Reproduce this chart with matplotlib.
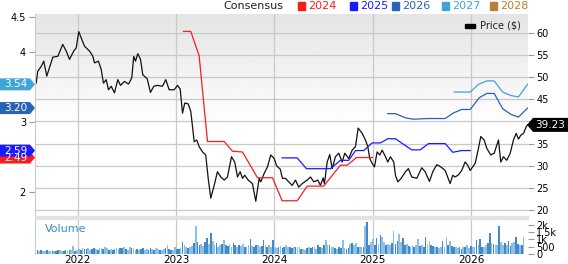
import numpy as np
import matplotlib
matplotlib.use("Agg")
import matplotlib.pyplot as plt
from matplotlib.patches import Polygon, Rectangle
from matplotlib.transforms import IdentityTransform

# ---------------- data ----------------
years = [2022, 2023, 2024, 2025, 2026]

price_t = [2021.577, 2021.593, 2021.628, 2021.654, 2021.685, 2021.712, 2021.746, 2021.797,
           2021.847, 2021.882, 2021.916, 2021.959, 2021.984, 2022.010, 2022.068, 2022.119,
           2022.153, 2022.170, 2022.210, 2022.238, 2022.261, 2022.289, 2022.312, 2022.340,
           2022.373, 2022.407, 2022.434, 2022.475, 2022.516, 2022.549, 2022.569, 2022.587,
           2022.610, 2022.638, 2022.661, 2022.706, 2022.739, 2022.773, 2022.807, 2022.861,
           2022.895, 2022.929, 2022.980, 2023.014, 2023.041, 2023.065, 2023.088, 2023.123,
           2023.149, 2023.184, 2023.210, 2023.234, 2023.268, 2023.301, 2023.326, 2023.352,
           2023.387, 2023.420, 2023.454, 2023.489, 2023.522, 2023.563, 2023.596, 2023.624,
           2023.651, 2023.675, 2023.698, 2023.733, 2023.776, 2023.810, 2023.844, 2023.861,
           2023.895, 2023.929, 2023.962, 2023.997, 2024.023, 2024.058, 2024.081, 2024.112,
           2024.145, 2024.180, 2024.214, 2024.247, 2024.282, 2024.332, 2024.366, 2024.400,
           2024.440, 2024.468, 2024.495, 2024.508, 2024.536, 2024.562, 2024.587, 2024.620,
           2024.654, 2024.688, 2024.715, 2024.755, 2024.790, 2024.824, 2024.851, 2024.892,
           2024.925, 2024.949, 2024.969, 2024.993, 2025.017, 2025.044, 2025.071, 2025.095,
           2025.129, 2025.152, 2025.179, 2025.213, 2025.230, 2025.254, 2025.288, 2025.332,
           2025.362, 2025.396, 2025.447, 2025.498, 2025.532, 2025.576, 2025.610, 2025.650,
           2025.691, 2025.736, 2025.786, 2025.813, 2025.837, 2025.871, 2025.904, 2025.939,
           2025.965, 2025.990, 2026.016, 2026.041, 2026.074, 2026.098, 2026.132, 2026.159,
           2026.199, 2026.234, 2026.278, 2026.301, 2026.328, 2026.362, 2026.397, 2026.430,
           2026.458, 2026.481, 2026.505, 2026.532, 2026.560, 2026.573]
price_v = [48.7, 51.4, 52.5, 53.7, 50.3, 52.2, 54.6, 54.8,
           57.5, 56.0, 54.1, 56.0, 56.7, 60.4, 57.1, 56.0,
           54.8, 53.3, 53.7, 51.8, 48.7, 49.5, 47.2, 48.0,
           46.5, 49.5, 48.2, 49.1, 48.5, 49.9, 54.8, 53.7,
           55.4, 54.1, 50.6, 49.7, 46.6, 48.0, 48.2, 48.0,
           49.5, 47.2, 47.2, 48.2, 47.4, 41.9, 44.2, 44.0,
           42.3, 35.4, 35.8, 34.3, 33.1, 32.4, 27.1, 22.6,
           25.5, 28.6, 27.4, 26.7, 27.4, 32.0, 30.8, 27.4,
           28.6, 27.1, 27.8, 26.7, 25.9, 21.9, 27.1, 26.3,
           28.2, 29.7, 32.4, 31.6, 29.9, 29.2, 27.1, 27.1,
           26.3, 25.5, 26.7, 25.1, 25.9, 26.7, 27.4, 26.3,
           26.7, 25.5, 27.2, 25.9, 30.8, 32.5, 29.3, 32.0,
           32.8, 30.8, 32.8, 31.6, 33.5, 34.3, 38.5, 37.3,
           35.8, 34.3, 31.6, 30.5, 29.7, 33.1, 32.4, 33.5,
           32.0, 30.8, 32.0, 30.8, 27.8, 26.3, 27.1, 28.6,
           29.3, 27.4, 27.1, 29.5, 28.6, 26.4, 28.6, 30.2,
           29.7, 28.9, 25.9, 27.8, 27.4, 27.9, 28.9, 30.8,
           30.1, 28.9, 29.7, 30.5, 33.9, 36.6, 35.8, 33.9,
           32.4, 32.8, 35.8, 30.8, 32.0, 31.2, 32.8, 35.8,
           37.3, 36.0, 36.9, 37.3, 38.8, 39.23]

eps24_t = [2023.075, 2023.149, 2023.234, 2023.319, 2023.489, 2023.573, 2023.675, 2023.827,
           2023.980, 2024.078, 2024.231, 2024.333, 2024.501, 2024.671, 2024.739, 2024.834,
           2024.976, 2024.996]
eps24_v = [4.30, 4.30, 3.95, 2.72, 2.72, 2.58, 2.57, 2.20,
           2.20, 1.87, 1.87, 2.08, 2.08, 2.38, 2.38, 2.49,
           2.49, 2.49]

eps25_t = [2024.078, 2024.231, 2024.325, 2024.569, 2024.671, 2024.755, 2024.824, 2024.908,
           2024.993, 2025.078, 2025.152, 2025.230, 2025.332, 2025.396, 2025.481, 2025.566,
           2025.736, 2025.813, 2025.904, 2025.990]
eps25_v = [2.485, 2.485, 2.33, 2.33, 2.45, 2.45, 2.59, 2.59,
           2.70, 2.70, 2.76, 2.76, 2.66, 2.60, 2.60, 2.69,
           2.69, 2.565, 2.59, 2.59]

eps26_t = [2025.152, 2025.230, 2025.332, 2025.413, 2025.566, 2025.736, 2025.820, 2025.904,
           2025.990, 2026.084, 2026.159, 2026.234, 2026.321, 2026.403, 2026.481, 2026.573]
eps26_v = [3.12, 3.12, 3.06, 3.04, 3.05, 3.05, 3.13, 3.18,
           3.18, 3.35, 3.41, 3.41, 3.19, 3.11, 3.07, 3.20]

eps27_t = [2025.827, 2025.990, 2026.074, 2026.159, 2026.234, 2026.321, 2026.403, 2026.481,
           2026.573]
eps27_v = [3.43, 3.43, 3.54, 3.59, 3.59, 3.43, 3.38, 3.36, 3.54]

volume_k = [0.28, 0.25, 0.22, 0.25, 0.2, 0.22, 0.3, 0.22, 0.2, 0.18, 0.22, 0.2, 0.25, 0.3,
            0.22, 0.2, 0.25, 0.22, 0.3, 0.25, 0.52,
            0.2, 0.3, 0.35, 0.3, 0.38, 0.35, 0.32, 0.38, 0.3, 0.33, 0.4, 0.35, 0.3, 0.38,
            0.42, 0.35, 0.48, 0.4, 0.3, 0.35,
            0.3, 0.35, 0.4, 0.33, 0.38, 0.42, 0.45, 0.35, 0.3, 0.5, 0.38, 0.42, 0.3, 0.35,
            0.28, 0.35, 0.4, 0.3, 0.35, 0.3,
            0.38, 0.32, 0.3, 0.4, 0.35, 0.3, 0.28, 0.35, 0.4, 0.6, 0.35, 0.3,
            0.3, 0.45, 0.35, 0.32, 0.4, 0.82, 0.65, 0.45, 0.4, 0.5, 0.55, 0.75,
            1.9,
            0.8, 0.6, 0.7, 0.55, 0.85, 1.1, 0.7, 1.45, 0.9, 0.6, 0.75, 0.5, 0.65, 0.7,
            0.95, 0.6, 0.55, 0.7, 0.5, 0.75, 0.6, 0.5, 0.6, 0.55, 0.7, 0.45, 0.5, 0.6,
            1.0, 0.55, 0.45, 0.6, 0.65, 0.5, 0.55, 0.93, 0.6, 0.5, 0.65,
            0.45, 0.93, 0.5, 0.4, 0.45, 0.55, 0.4, 0.45, 0.6, 0.5, 0.45, 0.4, 0.45, 0.5,
            0.5, 0.45, 0.35, 0.35, 0.3, 0.4, 0.45, 0.4, 0.5, 0.45, 0.35, 0.6,
            0.5, 0.4, 0.6, 0.93, 0.65, 0.6, 0.5, 0.45, 0.4, 0.35, 0.45, 0.4, 0.93, 0.4,
            0.35, 0.4, 0.7, 0.75, 0.6, 0.78, 0.5, 0.45,
            0.5, 0.45, 1.9, 2.2,
            0.6, 0.8, 1.0, 0.6, 1.07, 0.7, 1.3, 1.15, 0.8, 0.6, 0.7, 0.65, 0.75, 1.6,
            0.7, 0.9, 1.4, 0.8, 1.07, 0.6, 0.7, 0.55, 0.5, 0.6,
            0.5, 0.6, 1.0, 0.55, 0.6, 0.5, 1.15, 0.7, 0.9, 0.6, 0.55, 0.5, 0.45, 0.4,
            0.5, 0.9, 0.5, 1.2, 0.6, 0.9, 0.55, 0.5, 0.45, 0.4, 0.5, 0.35, 0.45, 0.5,
            0.6, 0.4,
            0.55, 0.45, 0.5, 0.95, 0.6, 1.0, 0.5, 0.45, 0.6, 0.75, 1.45, 0.75, 0.7, 0.65,
            0.6, 1.9, 0.8, 0.65, 0.75, 0.6, 0.9, 0.55, 0.75, 0.85, 1.2, 0.7, 0.65, 0.6, 1.2]
volume_start = 2021.57

legend_years = ["2024", "2025", "2026", "2027", "2028"]
legend_colors = ["#ff1a1a", "#1a1aff", "#2a62b8", "#3fa5d6", "#b58235"]
eps_labels = [(3.54, "#3fa5d6", "3.54"), (3.20, "#2a62b8", "3.20"),
              (2.49, "#ff1a1a", "2.49"), (2.59, "#1a1aff", "2.59")]
last_price = 39.23

# ---------------- layout ----------------
W, H = 568, 264
X0, X1 = 2021.565, 2026.578
PL, PR, PT, PB = 35, 528, 14, 216
VT, VB = 219, 254

plt.rcParams['font.family'] = ['DejaVu Sans']

fig = plt.figure(figsize=(W / 100, H / 100), dpi=100)


def rect(l, t, r, b):
    return [l / W, 1 - b / H, (r - l) / W, (b - t) / H]


# gradient background
bg = fig.add_axes(rect(PL, PT, PR, PB), zorder=0)
g = np.linspace(0, 1, 300)
vals = np.clip(0.895 + (1 - 0.895) * g / 0.55, 0, 1)
bg.imshow(vals[:, None], cmap='gray', vmin=0, vmax=1, aspect='auto',
          extent=[0, 1, 0, 1], interpolation='bilinear')
bg.axis('off')

grid_c = '#c9c9c9'
tick_c = '#9a9a9a'
fs = 7

# price axis (right)
ax_p = fig.add_axes(rect(PL, PT, PR, PB), zorder=1)
ax_p.patch.set_alpha(0)
ax_p.set_xlim(X0, X1)
ax_p.set_ylim(18.55, 64.4)
ax_p.yaxis.tick_right()
pt = list(range(20, 65, 5))
ax_p.set_yticks(pt)
ax_p.set_yticklabels(['' if v == 40 else str(v) for v in pt])
ax_p.set_xticks(years)
ax_p.tick_params(axis='x', length=0, labelbottom=False)
ax_p.tick_params(axis='y', length=4.5, width=0.8, color=tick_c, pad=1.5, labelsize=fs)
ax_p.grid(True, color=grid_c, lw=0.9)
for s in ax_p.spines.values():
    s.set_visible(False)
ax_p.plot(price_t, price_v, color='#111111', lw=0.9, zorder=3)

# EPS axis (left)
ax_e = fig.add_axes(rect(PL, PT, PR, PB), zorder=2)
ax_e.patch.set_alpha(0)
ax_e.set_xlim(X0, X1)
ax_e.set_ylim(1.651, 4.55)
ax_e.set_yticks([2, 3, 4, 4.5])
ax_e.set_yticklabels(['2', '3', '4', '4.5'])
ax_e.set_xticks([])
ax_e.tick_params(axis='y', length=4.5, width=0.8, color=tick_c, pad=2, labelsize=fs)
for k, s in ax_e.spines.items():
    s.set_visible(k == 'left')
ax_e.spines['left'].set_color(grid_c)
ax_e.plot(eps24_t, eps24_v, color=legend_colors[0], lw=0.9)
ax_e.plot(eps25_t, eps25_v, color=legend_colors[1], lw=0.9)
ax_e.plot(eps26_t, eps26_v, color=legend_colors[2], lw=0.9)
ax_e.plot(eps27_t, eps27_v, color=legend_colors[3], lw=0.9)

# volume axis
ax_v = fig.add_axes(rect(PL, VT, PR, VB), zorder=1)
ax_v.set_xlim(X0, X1)
ax_v.set_ylim(0, 2.4)
vol_t = volume_start + np.arange(len(volume_k)) / 52.18
vol_cols = ['#3f8bca' if (i % 3 == 0 or i % 5 == 1) else '#8fbfe4' for i in range(len(volume_k))]
ax_v.bar(vol_t, volume_k, width=0.9 / 52.18, color=vol_cols, align='center', zorder=2)
ax_v.yaxis.tick_right()
ax_v.set_yticks([0, 0.5, 1, 1.5, 2])
ax_v.set_yticklabels(['0', '500', '1k', '1.5k', '2k'])
ax_v.set_xticks(years)
ax_v.set_xticklabels([str(y) for y in years])
ax_v.tick_params(axis='x', length=0, pad=0.5, labelsize=7.5)
ax_v.tick_params(axis='y', length=4.5, width=0.8, color=tick_c, pad=1.5, labelsize=fs)
ax_v.grid(True, axis='x', color=grid_c, lw=0.9)
for k, s in ax_v.spines.items():
    s.set_visible(k == 'left')
ax_v.spines['left'].set_color(grid_c)
ax_v.text(0.02, 0.7, "Volume", transform=ax_v.transAxes, color='#3a8ccc',
          fontsize=8, va='center', ha='left')

# separator band
fig.add_artist(Rectangle((PL / W, 1 - VT / H), (PR - PL) / W, 3 / H,
                         transform=fig.transFigure, color='#e3e3e3', zorder=3))

# top legend
fig.text(223 / W, 1 - 6 / H, "Consensus", fontsize=8, va='center', ha='left', color='#222222')
lx = [298, 350, 392, 442, 490]
for x, lab, c in zip(lx, legend_years, legend_colors):
    fig.add_artist(Rectangle((x / W, 1 - 10 / H), 7 / W, 8 / H, transform=fig.transFigure,
                             color=c, zorder=3))
    fig.text((x + 10) / W, 1 - 6 / H, lab, fontsize=8, va='center', ha='left', color=c)

# price legend inside plot
fig.add_artist(Rectangle((465 / W, 1 - 28 / H), 10 / W, 4 / H, transform=fig.transFigure,
                         color='black', zorder=5))
fig.text(480 / W, 1 - 25.5 / H, "Price ($)", fontsize=7, va='center', ha='left', color='#222222')

# EPS value boxes on the left
idt = IdentityTransform()
for val, c, lab in eps_labels:
    yd = ax_e.transData.transform((X0, val))[1]
    poly = Polygon([(0, yd - 6), (30, yd - 6), (35, yd), (30, yd + 6), (0, yd + 6)],
                   closed=True, facecolor=c, edgecolor='none', transform=idt, zorder=6)
    fig.add_artist(poly)
    fig.text(15.5, yd, lab, transform=idt, fontsize=7.5, color='white',
             ha='center', va='center', zorder=7)

# last price box on the right
yd = ax_p.transData.transform((X1, last_price))[1]
poly = Polygon([(527, yd), (533, yd - 7), (568, yd - 7), (568, yd + 7), (533, yd + 7)],
               closed=True, facecolor='black', edgecolor='none', transform=idt, zorder=6)
fig.add_artist(poly)
fig.text(550, yd, "39.23", transform=idt, fontsize=7.5, color='white',
         ha='center', va='center', zorder=7)

fig.savefig('out.png', dpi=100)
